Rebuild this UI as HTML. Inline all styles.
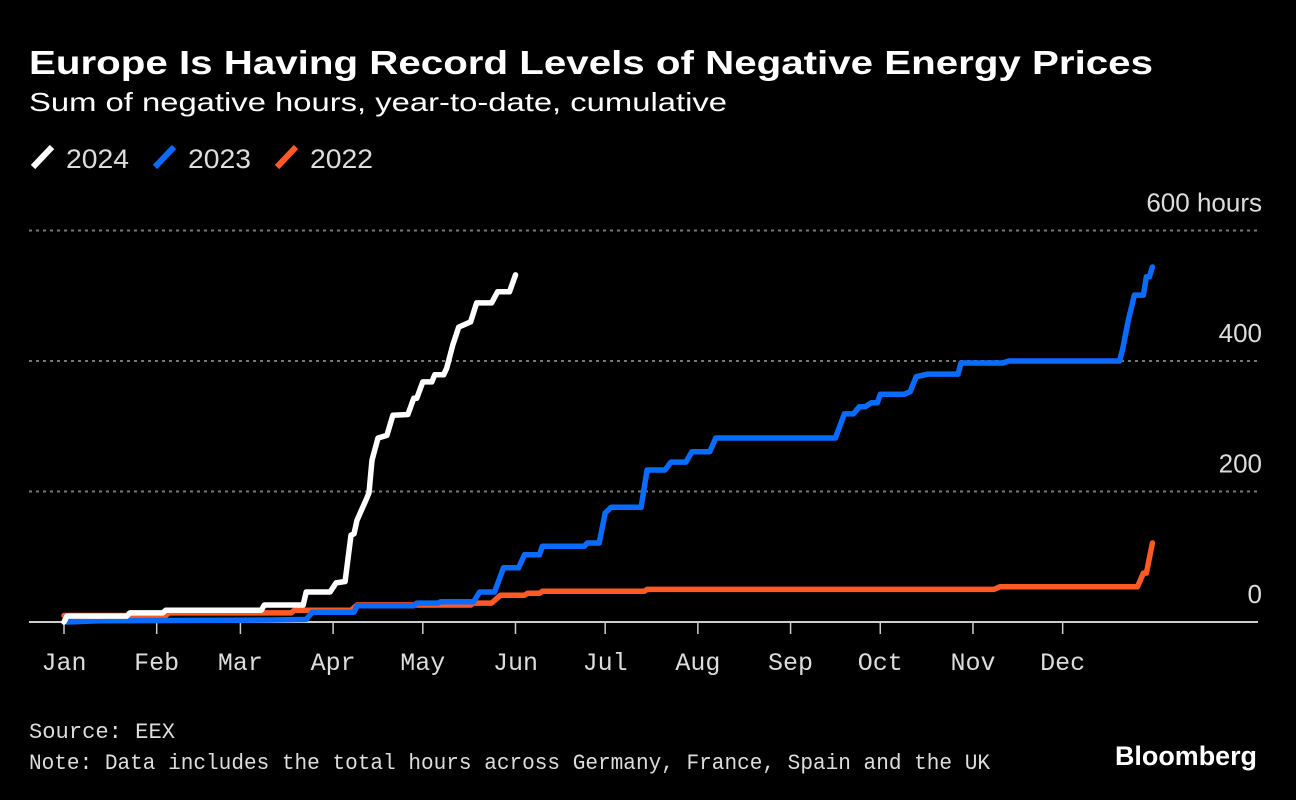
<!DOCTYPE html>
<html><head><meta charset="utf-8"><style>
html,body{margin:0;padding:0;background:#000;}
svg{display:block}
</style></head><body>
<svg id="chart" width="1296" height="800" viewBox="0 0 1296 800" xmlns="http://www.w3.org/2000/svg" font-family="'Liberation Sans', sans-serif">
<rect width="1296" height="800" fill="#000"/>
<text x="29" y="74" fill="#fff" font-size="33" font-weight="bold" textLength="1124" lengthAdjust="spacingAndGlyphs">Europe Is Having Record Levels of Negative Energy Prices</text>
<text x="29" y="111" fill="#fff" font-size="26" textLength="698" lengthAdjust="spacingAndGlyphs">Sum of negative hours, year-to-date, cumulative</text>
<g font-size="27" fill="#ddd">
<g><line x1="33" y1="167" x2="52" y2="147" stroke="#fff" stroke-width="6"/><text x="66" y="168" textLength="63" lengthAdjust="spacingAndGlyphs">2024</text></g>
<g><line x1="155" y1="167" x2="174" y2="147" stroke="#0a6cff" stroke-width="6"/><text x="188" y="168" textLength="63" lengthAdjust="spacingAndGlyphs">2023</text></g>
<g><line x1="277" y1="167" x2="296" y2="147" stroke="#ff5a26" stroke-width="6"/><text x="310" y="168" textLength="63" lengthAdjust="spacingAndGlyphs">2022</text></g>
</g>
<g id="grid"></g>
<g id="yaxis"></g>
<g id="xaxis"></g>
<g id="series"></g>
<text x="29" y="738" fill="#ddd" font-size="22.5" font-family="'Liberation Mono', monospace" textLength="146" lengthAdjust="spacingAndGlyphs">Source: EEX</text>
<text x="29" y="769" fill="#ddd" font-size="22" font-family="'Liberation Mono', monospace" textLength="961" lengthAdjust="spacingAndGlyphs">Note: Data includes the total hours across Germany, France, Spain and the UK</text>
<text x="1257" y="765" fill="#fff" font-size="27" font-weight="bold" text-anchor="end" textLength="142" lengthAdjust="spacingAndGlyphs">Bloomberg</text>
</svg>
<script>
const monthLabels = ["Jan","Feb","Mar","Apr","May","Jun","Jul","Aug","Sep","Oct","Nov","Dec"];
const monthStartDays = [0,31,59,90,120,151,181,212,243,273,304,334];
const yTicks = [0,200,400,600];
const yTickLabels = ["0","200","400","600 hours"];
const days2024 = [0,1,21,22,33,34,66,67,80,81,89,91,94,96,97,98,101,102,103,105,108,110,115,117,118,120,123,124,127,128,130,132,136,138,143,145,149,151];
const vals2024 = [0,9,9,14,14,18,18,26,26,46,46,60,62,133,135,156,187,198,248,282,286,317,318,343,343,368,368,379,379,389,424,452,460,489,489,506,506,532];
const days2023 = [1,12,69,81,83,97,98,117,118,125,126,137,139,144,147,152,154,159,160,174,175,179,181,183,193,195,201,203,208,210,216,218,258,261,264,266,268,270,272,273,281,283,285,289,299,300,314,316,353,354,356,358,361,362,363,364];
const vals2023 = [0,2,3,4,15,15,25,25,29,29,31,31,46,46,83,83,103,103,116,116,121,121,167,176,176,233,233,245,245,261,261,282,282,319,319,330,330,336,336,349,349,353,376,380,380,397,397,400,400,417,463,501,501,529,529,544];
const days2022 = [0,34,35,76,77,96,98,136,137,143,146,154,155,159,160,194,195,311,313,359,361,362,364];
const vals2022 = [10,10,14,14,18,18,26,26,29,29,41,41,44,44,47,47,50,50,54,54,75,75,121];

const NS = "http://www.w3.org/2000/svg";
const xScale = d => 64 + d * 2.99;
const yScale = v => 622 - v * 0.6525;
function mk(tag, attrs, parent){const e=document.createElementNS(NS,tag);for(const k in attrs)e.setAttribute(k,attrs[k]);parent.appendChild(e);return e;}
const grid=document.getElementById('grid'), ya=document.getElementById('yaxis'), xa=document.getElementById('xaxis'), ser=document.getElementById('series');
yTicks.forEach((t,i)=>{
  const y=yScale(t);
  if(t>0){
    const l=mk('line',{x1:29,x2:1258,y1:y,y2:y,stroke:'#777','stroke-width':2,'stroke-dasharray':'3 4'},grid);
    
    
  }
  const tx=mk('text',{x:1262,y:y-19,fill:'#ddd','font-size':26,'text-anchor':'end'},ya);
  tx.textContent=yTickLabels[i];
  
  
});
const base=mk('line',{x1:29,x2:1258,y1:622,y2:622,stroke:'#ccc','stroke-width':2},xa);


monthLabels.forEach((m,i)=>{
  const x=xScale(monthStartDays[i]);
  const tk=mk('line',{x1:x,x2:x,y1:622,y2:634,stroke:'#ccc','stroke-width':1.5},xa);
  
  
  const tx=mk('text',{x:x,y:670,fill:'#ddd','font-size':25,'text-anchor':'middle','font-family':"'Liberation Mono', monospace"},xa);
  tx.textContent=m;
  
  
});
function drawSeries(days, vals, color, name){
  const pts=days.map((d,i)=>xScale(d).toFixed(1)+','+yScale(vals[i]).toFixed(1)).join(' ');
  const p=mk('polyline',{points:pts,fill:'none',stroke:color,'stroke-width':5.5,'stroke-linejoin':'round','stroke-linecap':'round'},ser);
  
  
}
drawSeries(days2022, vals2022, '#ff5a26', 'line-2022');
drawSeries(days2023, vals2023, '#0a6cff', 'line-2023');
drawSeries(days2024, vals2024, '#ffffff', 'line-2024');
</script>
</body></html>
